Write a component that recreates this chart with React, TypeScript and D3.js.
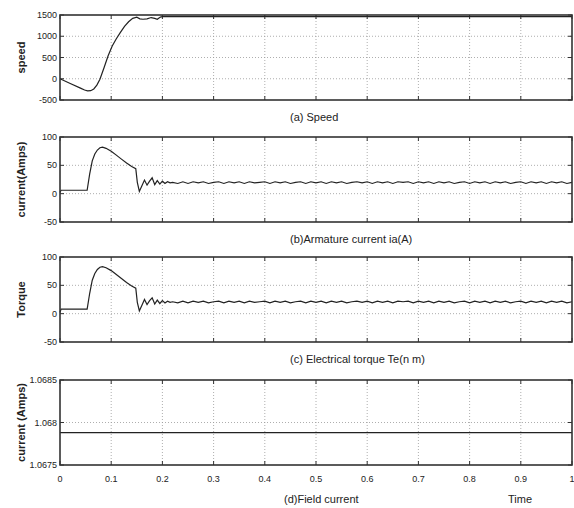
import { useEffect, useRef } from "react";
import * as d3 from "d3";

// time axis
const timeTicks = [0, 0.1, 0.2, 0.3, 0.4, 0.5, 0.6, 0.7, 0.8, 0.9, 1];
const timeTickLabels = ["0", "0.1", "0.2", "0.3", "0.4", "0.5", "0.6", "0.7", "0.8", "0.9", "1"];

// (a) speed
const speedT = [0, 0.02, 0.04, 0.048, 0.054, 0.06, 0.066, 0.072, 0.078, 0.086, 0.094, 0.102, 0.11, 0.118, 0.126, 0.134, 0.142, 0.15, 0.156, 0.162, 0.17, 0.178, 0.185, 0.19, 0.196, 0.2, 1];
const speedV = [0, -110, -220, -265, -285, -280, -240, -150, -10, 260, 540, 770, 940, 1090, 1230, 1340, 1420, 1450, 1410, 1400, 1410, 1440, 1420, 1400, 1450, 1460, 1460];

// (b) armature current, transient part
const currT = [0, 0.002, 0.03, 0.053, 0.058, 0.063, 0.068, 0.073, 0.078, 0.083, 0.09, 0.1, 0.11, 0.12, 0.13, 0.14, 0.148, 0.151, 0.155, 0.16, 0.165, 0.17, 0.175, 0.18, 0.185, 0.19, 0.195, 0.2, 0.205, 0.21, 0.215, 0.22];
const currV = [2, 6, 6, 6, 35, 58, 70, 77, 81, 82, 80, 75, 68, 61, 54, 48, 44, 20, 4, 14, 24, 15, 22, 28, 16, 23, 17, 22, 18, 21, 19, 20];

// (c) torque, transient part
const torqT = [0, 0.002, 0.03, 0.053, 0.058, 0.063, 0.068, 0.073, 0.078, 0.083, 0.09, 0.1, 0.11, 0.12, 0.13, 0.14, 0.148, 0.151, 0.155, 0.16, 0.165, 0.17, 0.175, 0.18, 0.185, 0.19, 0.195, 0.2, 0.205, 0.21, 0.215, 0.22];
const torqV = [2, 8, 8, 8, 36, 59, 71, 78, 82, 83, 81, 76, 69, 62, 55, 49, 45, 20, 5, 15, 25, 16, 23, 28, 17, 24, 18, 23, 19, 22, 20, 21];

// steady ripple after 0.22 s, sampled every 0.01 s
const rippleT = [
  0.23, 0.24, 0.25, 0.26, 0.27, 0.28, 0.29, 0.3, 0.31, 0.32, 0.33, 0.34, 0.35, 0.36, 0.37, 0.38, 0.39, 0.4,
  0.41, 0.42, 0.43, 0.44, 0.45, 0.46, 0.47, 0.48, 0.49, 0.5, 0.51, 0.52, 0.53, 0.54, 0.55, 0.56, 0.57, 0.58,
  0.59, 0.6, 0.61, 0.62, 0.63, 0.64, 0.65, 0.66, 0.67, 0.68, 0.69, 0.7, 0.71, 0.72, 0.73, 0.74, 0.75, 0.76,
  0.77, 0.78, 0.79, 0.8, 0.81, 0.82, 0.83, 0.84, 0.85, 0.86, 0.87, 0.88, 0.89, 0.9, 0.91, 0.92, 0.93, 0.94,
  0.95, 0.96, 0.97, 0.98, 0.99, 1,
];
const currRipple = [
  18, 21, 18, 21, 19, 21, 18, 20, 21, 18, 21, 19, 21, 18, 21, 19, 20, 21,
  18, 21, 19, 21, 18, 20, 21, 18, 21, 19, 21, 18, 21, 19, 21, 18, 20, 21,
  19, 21, 18, 21, 19, 21, 18, 21, 20, 21, 18, 21, 19, 21, 18, 21, 19, 21,
  18, 20, 21, 18, 21, 19, 21, 18, 21, 19, 21, 18, 20, 21, 18, 21, 19, 21,
  18, 21, 19, 21, 18, 20,
];
const torqRipple = [
  19, 22, 19, 22, 20, 22, 19, 21, 22, 19, 22, 20, 22, 19, 22, 20, 21, 22,
  19, 22, 20, 22, 19, 21, 22, 19, 22, 20, 22, 19, 22, 20, 22, 19, 21, 22,
  20, 22, 19, 22, 20, 22, 19, 22, 21, 22, 19, 22, 20, 22, 19, 22, 20, 22,
  19, 21, 22, 19, 22, 20, 22, 19, 22, 20, 22, 19, 21, 22, 19, 22, 20, 22,
  19, 22, 20, 22, 19, 21,
];

// (d) field current
const fieldT = [0, 1];
const fieldV = [1.06788, 1.06788];

const panels = [
  {
    top: 15, ylabel: "speed", title: "(a) Speed",
    domain: [-500, 1500], ticks: [-500, 0, 500, 1000, 1500], tickLabels: ["-500", "0", "500", "1000", "1500"],
    t: speedT, v: speedV,
  },
  {
    top: 137, ylabel: "current(Amps)", title: "(b)Armature current ia(A)",
    domain: [-50, 100], ticks: [-50, 0, 50, 100], tickLabels: ["-50", "0", "50", "100"],
    t: currT.concat(rippleT), v: currV.concat(currRipple),
  },
  {
    top: 257, ylabel: "Torque", title: "(c) Electrical torque Te(n m)",
    domain: [-50, 100], ticks: [-50, 0, 50, 100], tickLabels: ["-50", "0", "50", "100"],
    t: torqT.concat(rippleT), v: torqV.concat(torqRipple),
  },
  {
    top: 380, ylabel: "current (Amps)", title: "",
    domain: [1.0675, 1.0685], ticks: [1.0675, 1.068, 1.0685], tickLabels: ["1.0675", "1.068", "1.0685"],
    t: fieldT, v: fieldV,
  },
];

const W = 574, H = 508;
const left = 60, right = 572, ph = 85;
const font = "'Liberation Sans Narrow', 'Liberation Sans', Arial, sans-serif";

export default function App() {
  const ref = useRef<SVGSVGElement | null>(null);

  useEffect(() => {
    if (!ref.current) return;
    const svg = d3.select(ref.current);
    svg.selectAll("*").remove();

    const x = d3.scaleLinear().domain([0, 1]).range([left, right]);

    panels.forEach((p, i) => {
      const y = d3.scaleLinear().domain(p.domain).range([p.top + ph, p.top]);
      const g = svg.append("g");

      // grid
      g.selectAll(".gx").data(timeTicks.slice(1, -1)).enter().append("line")
        .attr("x1", (d) => x(d)).attr("x2", (d) => x(d))
        .attr("y1", p.top).attr("y2", p.top + ph)
        .attr("stroke", "#999").attr("stroke-width", 0.8).attr("stroke-dasharray", "1,2");
      g.selectAll(".gy").data(p.ticks.slice(1, -1)).enter().append("line")
        .attr("x1", left).attr("x2", right)
        .attr("y1", (d) => y(d)).attr("y2", (d) => y(d))
        .attr("stroke", "#999").attr("stroke-width", 0.8).attr("stroke-dasharray", "1,2");

      // tick marks inside, all four sides
      const tl = 4;
      timeTicks.forEach((t) => {
        g.append("line").attr("x1", x(t)).attr("x2", x(t)).attr("y1", p.top + ph).attr("y2", p.top + ph - tl).attr("stroke", "#333");
        g.append("line").attr("x1", x(t)).attr("x2", x(t)).attr("y1", p.top).attr("y2", p.top + tl).attr("stroke", "#333");
      });
      p.ticks.forEach((t) => {
        g.append("line").attr("x1", left).attr("x2", left + tl).attr("y1", y(t)).attr("y2", y(t)).attr("stroke", "#333");
        g.append("line").attr("x1", right).attr("x2", right - tl).attr("y1", y(t)).attr("y2", y(t)).attr("stroke", "#333");
      });

      // y tick labels
      g.selectAll(".yl").data(p.ticks).enter().append("text")
        .attr("x", left - 3).attr("y", (d) => y(d)).attr("dy", "0.35em")
        .attr("text-anchor", "end").attr("font-family", font).attr("font-size", 9).attr("fill", "#222")
        .text((d, k) => p.tickLabels[k]);

      // data line
      const pts: [number, number][] = p.t.map((t, k) => [t, p.v[k]]);
      const line = d3.line<[number, number]>().x((d) => x(d[0])).y((d) => y(d[1]));
      g.append("path").datum(pts).attr("d", line)
        .attr("fill", "none").attr("stroke", "#222").attr("stroke-width", 1.2);

      // frame
      g.append("rect").attr("x", left).attr("y", p.top).attr("width", right - left).attr("height", ph)
        .attr("fill", "none").attr("stroke", "#333").attr("stroke-width", 1.6);

      // y label
      g.append("text")
        .attr("transform", `translate(25,${p.top + ph / 2}) rotate(-90)`)
        .attr("text-anchor", "middle").attr("font-family", font).attr("font-weight", "bold")
        .attr("font-size", 11).attr("fill", "#222").text(p.ylabel);

      // title
      if (p.title) {
        g.append("text").attr("x", 290).attr("y", p.top + ph + 21)
          .attr("font-family", font).attr("font-size", 11).attr("fill", "#222").text(p.title);
      }

      if (i === panels.length - 1) {
        g.selectAll(".xl").data(timeTicks).enter().append("text")
          .attr("x", (d) => x(d)).attr("y", p.top + ph + 17)
          .attr("text-anchor", "middle").attr("font-family", font).attr("font-size", 9).attr("fill", "#222")
          .text((d, k) => timeTickLabels[k]);
        g.append("text").attr("x", 284).attr("y", 503)
          .attr("font-family", font).attr("font-size", 11).attr("fill", "#222").text("(d)Field current");
        g.append("text").attr("x", 508).attr("y", 503)
          .attr("font-family", font).attr("font-size", 11).attr("fill", "#222").text("Time");
      }
    });
  }, []);

  return (
    <svg ref={ref} width={W} height={H}
      style={{ position: "absolute", left: 0, top: 0, background: "#fff" }} />
  );
}
